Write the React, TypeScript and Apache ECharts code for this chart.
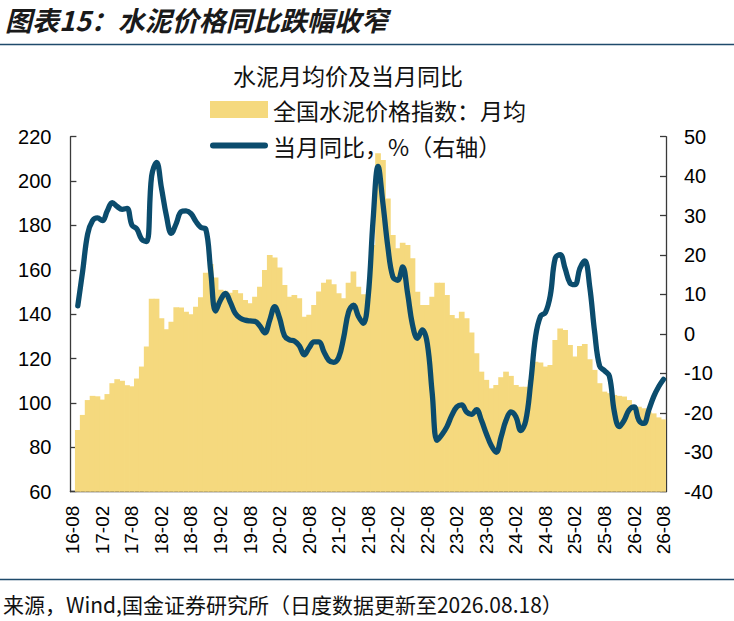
import React, { useEffect, useRef } from "react";
import * as echarts from "echarts";

const titleText = "图表15：水泥价格同比跌幅收窄";
const chartTitle = "水泥月均价及当月同比";
const sourceText = "来源，Wind,国金证券研究所（日度数据更新至2026.08.18）";
const barName = "全国水泥价格指数：月均";
const lineName = "当月同比，%（右轴）";

const startYear = 2016;
const startMonth = 8;
const monthCount = 121;

// 全国水泥价格指数：月均 (left axis), index 0 = 16-08
const priceIndex: (number | null)[] = [
  null, 87.8, 94.6, 101.3, 103.2, 103, 101.5, 104, 108.9, 110.7,
  110, 108, 107.5, 111, 116.4, 125.4, 147, 147, 138.2, 133.2,
  136.6, 143.1, 143, 141.1, 140, 143.4, 147.6, 158.7, 162.6, 156.5,
  151, 150.6, 149.7, 150.9, 149.4, 146.4, 144.9, 147.9, 152.4, 159.9,
  166.7, 165.6, 161, 153.2, 147.9, 148.7, 147.2, 138.9, 139.7, 144.2,
  150.2, 154.2, 155.6, 153.5, 149.4, 147.2, 154.2, 159.2, 152.4, 149,
  146.4, 171.2, 212.5, 209.5, 192.2, 175.7, 169.7, 172.2, 171.2, 165.2,
  150.1, 144.2, 144.2, 147.9, 154.2, 154.2, 148.7, 139.6, 138.2, 141.1,
  138.2, 131.7, 122.4, 114.1, 110.4, 106.6, 108.1, 111.6, 114.1, 112.2,
  108.1, 107.3, 107.3, 110.4, 118.6, 118.2, 116.4, 117.1, 128.4, 133.6,
  132.9, 126.1, 120.9, 125.7, 126.6, 119.7, 114.9, 108.9, 105.1, 104.4,
  103.6, 103.2, 102.9, 101.3, 98.3, 98.3, 97.6, 96.1, 95.3, 93.5,
  92.6,
];

// 当月同比，% (right axis)
const yoy: (number | null)[] = [
  null, 7.1, 16, 25.3, 28.7, 29.4, 28.7, 31.2, 33.3, 32.3,
  31.6, 31.8, 27.6, 26.6, 24, 23.4, 40, 43.5, 37, 30,
  25.5, 28, 31, 31.2, 30.5, 28.5, 27, 26.6, 16, 5.8,
  8.6, 10.3, 8, 5.2, 4, 3.5, 3.3, 3.2, 2, 0.3,
  3.5, 6.9, 4, -0.5, -1.5, -1.8, -3, -5.3, -3.5, -2,
  -2, -4.5, -6.7, -7.2, -6, -1, 5.5, 7.3, 4.5, 2.7,
  9.5, 29, 42.5, 33, 22, 14.5, 13.6, 17, 10.3, 2.3,
  -1.1, 1, -2.4, -15, -27, -25.5, -23.5, -20.6, -18.5, -18,
  -19.8, -20.4, -19.2, -21.9, -25.3, -28.3, -30, -26.1, -21.9, -19.8,
  -21, -24.5, -22, -12.5, -0.7, 4.5, 5.4, 9.8, 19.2, 20.1,
  16.6, 12.9, 12.5, 16.6, 18.5, 12, 0.5, -8.1, -9.3, -10.7,
  -19.7, -23.5, -21.9, -19.3, -18.5, -21.9, -22.7, -19.3, -15.9, -13.4,
  -11.5,
];

const leftAxis = { min: 60, max: 220, interval: 20 };
const rightAxis = { min: -40, max: 50, interval: 10 };

function buildMonths(): string[] {
  const out: string[] = [];
  let y = startYear;
  let m = startMonth;
  for (let i = 0; i < monthCount; i++) {
    out.push(String(y % 100).padStart(2, "0") + "-" + String(m).padStart(2, "0"));
    m++;
    if (m > 12) {
      m = 1;
      y++;
    }
  }
  return out;
}

const months = buildMonths();

const BAR_COLOR = "#F5D97E";
const LINE_COLOR = "#0B4C6D";
const RULE_COLOR = "#1F4A6B";
const AXIS_COLOR = "#3a3a3a";
const CJK = "'Noto Sans CJK SC', 'Noto Sans', sans-serif";
const LATIN = "'Liberation Sans', Arial, sans-serif";
const LINE_ICON =
  "path://M3,0 L55,0 A3,3 0 0 1 55,6 L3,6 A3,3 0 0 1 3,0 Z";

export default function App() {
  const ref = useRef<HTMLDivElement>(null);
  useEffect(() => {
    if (!ref.current) return;
    const chart = echarts.init(ref.current, undefined, { renderer: "svg" });
    chart.setOption({
      animation: false,
      backgroundColor: "#ffffff",
      title: {
        text: chartTitle,
        left: 343,
        top: 58,
        textAlign: "center",
        textStyle: { fontFamily: CJK, fontSize: 23, fontWeight: "normal", color: "#111" },
      },
      legend: {
        orient: "vertical",
        left: 205,
        top: 93,
        itemWidth: 58,
        itemHeight: 17,
        itemGap: 13,
        textStyle: { fontFamily: CJK, fontSize: 23, color: "#111" },
        data: [
          { name: barName, icon: "rect" },
          { name: lineName, icon: LINE_ICON, itemStyle: { color: LINE_COLOR } },
        ],
      },
      graphic: [
        {
          type: "text",
          left: 5,
          top: 6,
          style: {
            text: titleText,
            font: `italic bold 27px ${CJK}`,
            fill: "#1a1a1a",
          },
        },
        {
          type: "line",
          shape: { x1: 0, y1: 44.5, x2: 734, y2: 44.5 },
          style: { stroke: RULE_COLOR, lineWidth: 1.3 },
        },
        {
          type: "line",
          shape: { x1: 0, y1: 579.5, x2: 734, y2: 579.5 },
          style: { stroke: RULE_COLOR, lineWidth: 1.3 },
        },
        {
          type: "text",
          left: 3,
          top: 593,
          style: {
            text: sourceText,
            font: `21px ${CJK}`,
            fill: "#111",
          },
        },
      ],
      grid: { left: 70.4, right: 68, top: 136.7, bottom: 129.3, containLabel: false },
      xAxis: {
        type: "category",
        data: months,
        boundaryGap: true,
        axisLine: { onZero: false, lineStyle: { color: AXIS_COLOR, width: 1.3 } },
        axisTick: { inside: true, length: 5, interval: 5, lineStyle: { color: AXIS_COLOR, width: 1.3 } },
        axisLabel: {
          interval: 5,
          rotate: 90,
          margin: 14,
          fontFamily: LATIN,
          fontSize: 19,
          color: "#000",
        },
        splitLine: { show: false },
      },
      yAxis: [
        {
          type: "value",
          min: leftAxis.min,
          max: leftAxis.max,
          interval: leftAxis.interval,
          position: "left",
          axisLine: { show: true, lineStyle: { color: AXIS_COLOR, width: 1.3 } },
          axisTick: { show: true, inside: true, length: 6, lineStyle: { color: AXIS_COLOR, width: 1.3 } },
          axisLabel: { margin: 19, fontFamily: LATIN, fontSize: 20, color: "#000" },
          splitLine: { show: false },
        },
        {
          type: "value",
          min: rightAxis.min,
          max: rightAxis.max,
          interval: rightAxis.interval,
          position: "right",
          axisLine: { show: true, lineStyle: { color: AXIS_COLOR, width: 1.3 } },
          axisTick: { show: true, inside: true, length: 6, lineStyle: { color: AXIS_COLOR, width: 1.3 } },
          axisLabel: { margin: 18, fontFamily: LATIN, fontSize: 20, color: "#000" },
          splitLine: { show: false },
        },
      ],
      series: [
        {
          name: barName,
          type: "bar",
          yAxisIndex: 0,
          data: priceIndex,
          barWidth: 5.7,
          itemStyle: { color: BAR_COLOR },
          z: 1,
        },
        {
          name: lineName,
          type: "line",
          yAxisIndex: 1,
          data: yoy,
          smooth: 0.4,
          symbol: "none",
          showSymbol: false,
          lineStyle: { color: LINE_COLOR, width: 5.3, cap: "round", join: "round" },
          itemStyle: { color: LINE_COLOR },
          z: 3,
        },
      ],
    });
    return () => chart.dispose();
  }, []);
  return (
    <div
      ref={ref}
      style={{ position: "absolute", left: 0, top: 0, width: 734, height: 621 }}
    />
  );
}
